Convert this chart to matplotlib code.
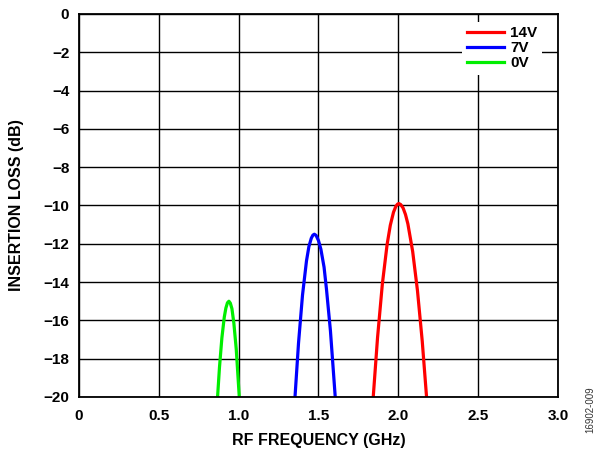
import matplotlib
matplotlib.use("Agg")
from matplotlib import pyplot as plt

plt.rcParams['font.family'] = ['Liberation Sans', 'DejaVu Sans']
plt.rcParams['font.weight'] = 'bold'

# Curve data (GHz, dB)
freq_14v = [1.843, 1.87, 1.90, 1.93, 1.95, 1.97, 1.985, 1.995, 2.004, 2.015, 2.03, 2.045,
            2.06, 2.09, 2.12, 2.15, 2.177]
loss_14v = [-20.0, -16.9, -14.11, -12.03, -11.03, -10.35, -10.04, -9.93, -9.9, -9.95, -10.13,
            -10.47, -10.96, -12.4, -14.44, -17.09, -20.0]

freq_7v = [1.353, 1.375, 1.40, 1.425, 1.44, 1.455, 1.465, 1.474, 1.485, 1.50, 1.515,
           1.535, 1.55, 1.575, 1.605]
loss_7v = [-20.0, -17.19, -14.68, -12.89, -12.15, -11.71, -11.55, -11.5, -11.56, -11.83, -12.28,
           -13.22, -14.36, -16.55, -20.0]

freq_0v = [0.868, 0.88, 0.895, 0.91, 0.92, 0.93, 0.939, 0.948, 0.958, 0.97, 0.985, 1.004]
loss_0v = [-20.0, -18.45, -16.92, -15.83, -15.36, -15.08, -15.0, -15.1, -15.39, -16.14, -17.5, -20.0]

x_ticks = [0, 0.5, 1.0, 1.5, 2.0, 2.5, 3.0]
x_labels = ['0', '0.5', '1.0', '1.5', '2.0', '2.5', '3.0']
y_ticks = [0, -2, -4, -6, -8, -10, -12, -14, -16, -18, -20]

fig = plt.figure(figsize=(5.97, 4.5), dpi=100)
ax = fig.add_axes([0.1323, 0.1178, 0.8023, 0.8511])

ax.plot(freq_14v, loss_14v, color='#ff0000', lw=2.3, label='14V')
ax.plot(freq_7v, loss_7v, color='#0000ff', lw=2.3, label='7V')
ax.plot(freq_0v, loss_0v, color='#00ee00', lw=2.3, label='0V')

ax.set_xlim(0, 3.0)
ax.set_ylim(-20, 0)
ax.set_xticks(x_ticks)
ax.set_xticklabels(x_labels)
ax.set_yticks(y_ticks)
ax.set_yticklabels(['0' if v == 0 else '\u2212%d' % -v for v in y_ticks])
ax.tick_params(length=0, labelsize=11, pad=7)
ax.tick_params(axis='x', pad=9)
ax.grid(True, color='black', lw=1)
ax.set_axisbelow(True)
for s in ax.spines.values():
    s.set_linewidth(1.3)

ax.set_xlabel('RF FREQUENCY (GHz)', fontsize=11.5, fontweight='bold', labelpad=7)
ax.set_ylabel('INSERTION LOSS (dB)', fontsize=11.5, fontweight='bold', labelpad=14)

leg = ax.legend(loc='upper right', bbox_to_anchor=(0.967, 0.98), frameon=True,
                fancybox=False, framealpha=1, edgecolor='white', fontsize=11,
                handlelength=2.4, handletextpad=0.45, labelspacing=0.07,
                borderpad=0.3, borderaxespad=0)
leg.get_frame().set_linewidth(0)

fig.text(0.988, 0.09, '16902-009', rotation=90, fontsize=7,
         fontweight='normal', color='#333333', ha='center', va='center')

fig.savefig('out.png', dpi=100)
